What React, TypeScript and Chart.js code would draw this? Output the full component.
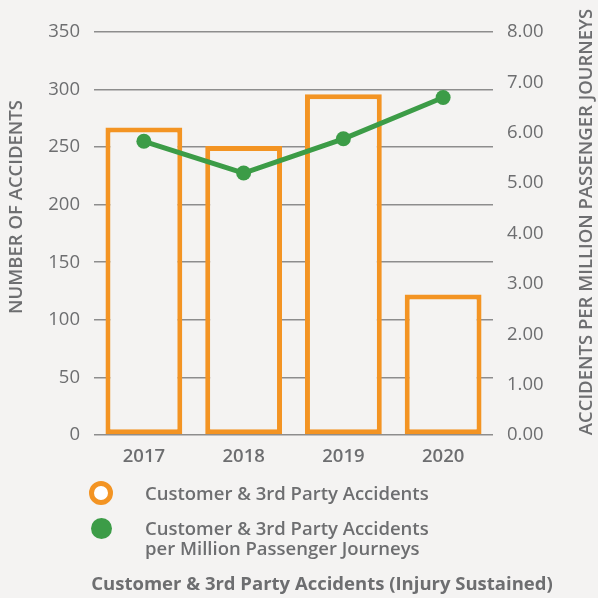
import React, { useEffect, useRef } from "react";
import { Chart, registerables } from "chart.js";

Chart.register(...registerables);

const categories = ["2017", "2018", "2019", "2020"];
const accidents = [267, 251, 296, 122];
const ratePerMillion = [5.83, 5.2, 5.88, 6.7];
const leftTicks = [0, 50, 100, 150, 200, 250, 300, 350];
const rightTicks = [0, 1, 2, 3, 4, 5, 6, 7, 8];

const BG = "#f4f3f2";
const ORANGE = "#f39423";
const GREEN = "#3c9c47";
const TEXT = "#6d6e70";
const FONT = "'Open Sans', sans-serif";
const FS = 18.5;

const axisTitlePlugin = {
  id: "axisTitles",
  afterDraw(chart: any) {
    const ctx = chart.ctx;
    ctx.save();
    ctx.fillStyle = TEXT;
    ctx.font = `600 ${FS}px ${FONT}`;
    ctx.textAlign = "center";
    ctx.textBaseline = "middle";
    ctx.translate(17, 207);
    ctx.rotate(-Math.PI / 2);
    ctx.fillText("NUMBER OF ACCIDENTS", 0, 0);
    ctx.restore();
    ctx.save();
    ctx.fillStyle = TEXT;
    ctx.font = `600 ${FS}px ${FONT}`;
    ctx.textAlign = "center";
    ctx.textBaseline = "middle";
    ctx.translate(587, 222);
    ctx.rotate(-Math.PI / 2);
    ctx.fillText("ACCIDENTS PER MILLION PASSENGER JOURNEYS", 0, 0);
    ctx.restore();
  },
};

export default function App() {
  const ref = useRef<HTMLCanvasElement>(null);

  useEffect(() => {
    document.body.style.margin = "0";
    document.body.style.background = BG;
    const chart = new Chart(ref.current as HTMLCanvasElement, {
      type: "bar",
      data: {
        labels: categories,
        datasets: [
          {
            type: "line",
            label: "Customer & 3rd Party Accidents per Million Passenger Journeys",
            data: ratePerMillion,
            yAxisID: "y1",
            borderColor: GREEN,
            backgroundColor: GREEN,
            borderWidth: 5,
            pointRadius: 7.5,
            pointBackgroundColor: GREEN,
            pointBorderWidth: 0,
            tension: 0,
            order: 0,
          } as any,
          {
            type: "bar",
            label: "Customer & 3rd Party Accidents",
            data: accidents,
            yAxisID: "y",
            backgroundColor: BG,
            borderColor: ORANGE,
            borderWidth: 5,
            borderSkipped: false,
            barPercentage: 0.77,
            categoryPercentage: 1,
            order: 1,
          } as any,
        ],
      },
      options: {
        responsive: false,
        animation: false,
        layout: { padding: { top: 32, left: 0, right: 0, bottom: 123 } },
        plugins: {
          legend: { display: false },
          tooltip: { enabled: false },
          title: { display: false },
        },
        scales: {
          x: {
            grid: { display: false, drawTicks: false },
            border: { display: false },
            ticks: {
              color: TEXT,
              font: { family: FONT, size: FS, weight: 600 as any },
              padding: 11,
            },
            afterFit(scale: any) {
              scale.height = 40;
            },
          },
          y: {
            position: "left",
            min: 0,
            max: 350,
            afterBuildTicks(scale: any) {
              scale.ticks = leftTicks.map((v) => ({ value: v }));
            },
            grid: { color: "#8d8d8d", lineWidth: 1.6, drawTicks: false },
            border: { display: false },
            ticks: {
              color: TEXT,
              font: { family: FONT, size: FS },
              padding: 14,
            },
            afterFit(scale: any) {
              scale.width = 94;
            },
          },
          y1: {
            position: "right",
            min: 0,
            max: 8,
            afterBuildTicks(scale: any) {
              scale.ticks = rightTicks.map((v) => ({ value: v }));
            },
            grid: { display: false, drawTicks: false },
            border: { display: false },
            ticks: {
              color: TEXT,
              font: { family: FONT, size: FS },
              padding: 14,
              callback: (v: any) => Number(v).toFixed(2),
            },
            afterFit(scale: any) {
              scale.width = 105;
            },
          },
        },
      },
      plugins: [axisTitlePlugin],
    });
    return () => chart.destroy();
  }, []);

  const textStyle: React.CSSProperties = {
    position: "absolute",
    left: 145,
    fontFamily: FONT,
    fontWeight: 600,
    fontSize: FS,
    color: TEXT,
    lineHeight: "20px",
    whiteSpace: "nowrap",
  };

  return (
    <div style={{ position: "relative", width: 598, height: 598, background: BG, overflow: "hidden" }}>
      <canvas ref={ref} width={598} height={598} style={{ position: "absolute", left: 0, top: 0 }} />
      <div
        style={{
          position: "absolute",
          left: 101 - 12,
          top: 493 - 12,
          width: 14,
          height: 14,
          border: `5px solid ${ORANGE}`,
          borderRadius: "50%",
          background: "#ffffff",
        }}
      />
      <div style={{ ...textStyle, top: 493 - 10 }}>Customer &amp; 3rd Party Accidents</div>
      <div
        style={{
          position: "absolute",
          left: 101 - 10.5,
          top: 528 - 10.5,
          width: 21,
          height: 21,
          borderRadius: "50%",
          background: GREEN,
        }}
      />
      <div style={{ ...textStyle, top: 528 - 10 }}>
        Customer &amp; 3rd Party Accidents
        <br />
        per Million Passenger Journeys
      </div>
      <div
        style={{
          position: "absolute",
          left: 0,
          width: 644,
          top: 583 - 10,
          textAlign: "center",
          fontFamily: FONT,
          fontWeight: 700,
          fontSize: FS,
          color: TEXT,
          lineHeight: "20px",
          whiteSpace: "nowrap",
        }}
      >
        Customer &amp; 3rd Party Accidents (Injury Sustained)
      </div>
    </div>
  );
}
